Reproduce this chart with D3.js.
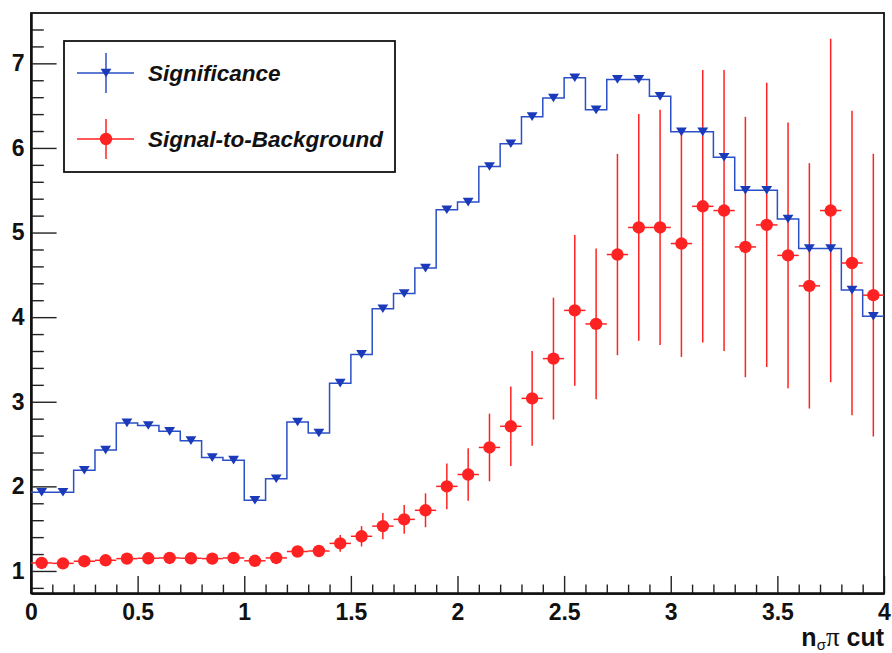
<!DOCTYPE html>
<html>
<head>
<meta charset="utf-8">
<script src="https://cdn.jsdelivr.net/npm/d3@7"></script>
<style>
  html, body { margin: 0; padding: 0; background: #ffffff; }
  svg { display: block; font-family: "Liberation Sans", Arial, Helvetica, sans-serif; }
</style>
</head>
<body>
<svg id="chart" width="892" height="653"></svg>
<script>
// ---------- data ----------
const binEdgesLow = d3.range(40).map(i => +(i * 0.1).toFixed(2));
const binWidth = 0.1;
const significance = [1.93, 1.93, 2.19, 2.43, 2.75, 2.72, 2.65, 2.54, 2.34, 2.31,
  1.835, 2.09, 2.76, 2.63, 3.22, 3.56, 4.10, 4.28, 4.58, 5.27,
  5.36, 5.78, 6.05, 6.37, 6.59, 6.83, 6.45, 6.81, 6.81, 6.61,
  6.19, 6.19, 5.89, 5.50, 5.50, 5.16, 4.81, 4.81, 4.32, 4.01];
const signalToBackground = [1.095, 1.09, 1.115, 1.126, 1.146, 1.15, 1.154, 1.15, 1.146, 1.154,
  1.12, 1.154, 1.23, 1.236, 1.326, 1.41, 1.53, 1.61, 1.717, 2.00,
  2.14, 2.46, 2.71, 3.04, 3.51, 4.08, 3.92, 4.74, 5.06, 5.06,
  4.87, 5.31, 5.26, 4.83, 5.09, 4.73, 4.37, 5.26, 4.64, 4.26];
const signalToBackgroundErr = [0.03, 0.03, 0.03, 0.035, 0.035, 0.035, 0.04, 0.04, 0.04, 0.045,
  0.045, 0.05, 0.065, 0.07, 0.10, 0.12, 0.155, 0.17, 0.20, 0.27,
  0.31, 0.40, 0.47, 0.56, 0.72, 0.89, 0.89, 1.19, 1.34, 1.39,
  1.34, 1.61, 1.66, 1.54, 1.68, 1.57, 1.45, 2.03, 1.80, 1.67];
const xTickValues = [0, 0.5, 1, 1.5, 2, 2.5, 3, 3.5, 4];
const xTickLabels = ["0", "0.5", "1", "1.5", "2", "2.5", "3", "3.5", "4"];
const yTickValues = [1, 2, 3, 4, 5, 6, 7];
const yTickLabels = ["1", "2", "3", "4", "5", "6", "7"];
const legendLabels = ["Significance", "Signal-to-Background"];

// ---------- layout ----------
const blueLine = "#2b4fc6", blueMarker = "#1a3aba", red = "#ff2222";
const svg = d3.select("#chart");
svg.append("rect").attr("width", 892).attr("height", 653).attr("fill", "#fff");

const x = d3.scaleLinear().domain([0, 4]).range([31, 884]);
const y = d3.scaleLinear().domain([0.736, 7.595]).range([593.3, 13]);

// minor ticks
const xMinor = d3.range(0, 4.001, 0.1).map(v => +v.toFixed(2)).filter(v => !xTickValues.some(t => Math.abs(t - v) < 1e-6));
const yMinor = d3.range(0.8, 7.55, 0.2).map(v => +v.toFixed(2)).filter(v => !yTickValues.some(t => Math.abs(t - v) < 1e-6));

const gxMinor = svg.append("g").attr("transform", `translate(0,${y.range()[0]})`)
  .call(d3.axisBottom(x).tickValues(xMinor).tickSizeInner(-8.7).tickSizeOuter(0).tickFormat(""));
const gx = svg.append("g").attr("transform", `translate(0,${y.range()[0]})`)
  .call(d3.axisBottom(x).tickValues(xTickValues).tickSizeInner(-17.4).tickSizeOuter(0)
    .tickPadding(10.4).tickFormat((d, i) => xTickLabels[i]));
const gyMinor = svg.append("g").attr("transform", `translate(${x.range()[0]},0)`)
  .call(d3.axisLeft(y).tickValues(yMinor).tickSizeInner(-12.8).tickSizeOuter(0).tickFormat(""));
const gy = svg.append("g").attr("transform", `translate(${x.range()[0]},0)`)
  .call(d3.axisLeft(y).tickValues(yTickValues).tickSizeInner(-25.6).tickSizeOuter(0)
    .tickPadding(6.5).tickFormat((d, i) => yTickLabels[i]));

[gxMinor, gx, gyMinor, gy].forEach(g => {
  g.selectAll("line").attr("stroke", "#222").attr("stroke-width", 1.4);
  g.select(".domain").attr("stroke", "#111").attr("stroke-width", 2);
  g.selectAll("text").attr("font-size", 23).attr("font-weight", "bold").attr("fill", "#111")
    .attr("font-family", "'Liberation Sans', Arial, sans-serif");
});

// frame
svg.append("rect")
  .attr("x", x.range()[0]).attr("y", y.range()[1])
  .attr("width", x.range()[1] - x.range()[0]).attr("height", y.range()[0] - y.range()[1])
  .attr("fill", "none").attr("stroke", "#111").attr("stroke-width", 1.8);

// ---------- significance step histogram ----------
const stepPts = binEdgesLow.map((lo, i) => [lo, significance[i]]);
stepPts.push([4, significance[significance.length - 1]]);
svg.append("path")
  .attr("d", d3.line().x(d => x(d[0])).y(d => y(d[1])).curve(d3.curveStepAfter)(stepPts))
  .attr("fill", "none").attr("stroke", blueLine).attr("stroke-width", 1.5);

// ---------- signal-to-background error bars ----------
const gErr = svg.append("g").attr("stroke", red).attr("stroke-width", 1.5);
binEdgesLow.forEach((lo, i) => {
  const c = lo + binWidth / 2;
  gErr.append("line").attr("x1", x(c)).attr("x2", x(c))
    .attr("y1", y(signalToBackground[i] - signalToBackgroundErr[i]))
    .attr("y2", y(signalToBackground[i] + signalToBackgroundErr[i]));
  gErr.append("line").attr("x1", x(lo)).attr("x2", x(lo + binWidth))
    .attr("y1", y(signalToBackground[i])).attr("y2", y(signalToBackground[i]));
});

// markers: downward triangle (wider than tall)
const downTri = {
  draw(ctx, size) {
    const w = Math.sqrt(size) * 1.45, h = Math.sqrt(size) * 1.15;
    ctx.moveTo(-w / 2, -h / 2);
    ctx.lineTo(w / 2, -h / 2);
    ctx.lineTo(0, h / 2);
    ctx.closePath();
  }
};
const tri = d3.symbol().type(downTri).size(56);
svg.append("g").selectAll("path").data(significance).join("path")
  .attr("d", tri)
  .attr("transform", (d, i) => `translate(${x(binEdgesLow[i] + binWidth / 2)},${y(d)})`)
  .attr("fill", blueMarker);
svg.append("g").selectAll("circle").data(signalToBackground).join("circle")
  .attr("cx", (d, i) => x(binEdgesLow[i] + binWidth / 2))
  .attr("cy", d => y(d)).attr("r", 6.2).attr("fill", red);

// ---------- legend ----------
const lg = svg.append("g");
lg.append("rect").attr("x", 64).attr("y", 41).attr("width", 331).attr("height", 131)
  .attr("fill", "#fff").attr("stroke", "#111").attr("stroke-width", 1.8);
const legendRows = [
  { y: 73, color: blueLine, mcolor: blueMarker, kind: "tri" },
  { y: 139, color: red, mcolor: red, kind: "circ" }
];
legendRows.forEach((r, i) => {
  lg.append("line").attr("x1", 77).attr("x2", 134).attr("y1", r.y).attr("y2", r.y)
    .attr("stroke", r.color).attr("stroke-width", 1.5);
  lg.append("line").attr("x1", 106).attr("x2", 106).attr("y1", r.y - 20).attr("y2", r.y + 20)
    .attr("stroke", r.color).attr("stroke-width", 1.5);
  if (r.kind === "tri") {
    lg.append("path").attr("d", tri).attr("transform", `translate(106,${r.y})`).attr("fill", r.mcolor);
  } else {
    lg.append("circle").attr("cx", 106).attr("cy", r.y).attr("r", 6.2).attr("fill", r.mcolor);
  }
  lg.append("text").attr("x", 148).attr("y", r.y + 7.5)
    .attr("font-size", 22.5).attr("font-weight", "bold").attr("font-style", "italic")
    .attr("fill", "#111").text(legendLabels[i]);
});

// ---------- x-axis title ----------
const xt = svg.append("text").attr("x", 884).attr("y", 646).attr("text-anchor", "end")
  .attr("font-size", 25).attr("font-weight", "bold").attr("fill", "#111");
xt.append("tspan").text("n");
xt.append("tspan").attr("font-size", 15).attr("font-weight", "normal").attr("dy", 4).text("σ");
xt.append("tspan").attr("dy", -4).attr("font-size", 27).attr("font-weight", "normal")
  .attr("font-family", "'Liberation Serif', 'DejaVu Serif', serif").text("π");
xt.append("tspan").text(" cut");
</script>
</body>
</html>
